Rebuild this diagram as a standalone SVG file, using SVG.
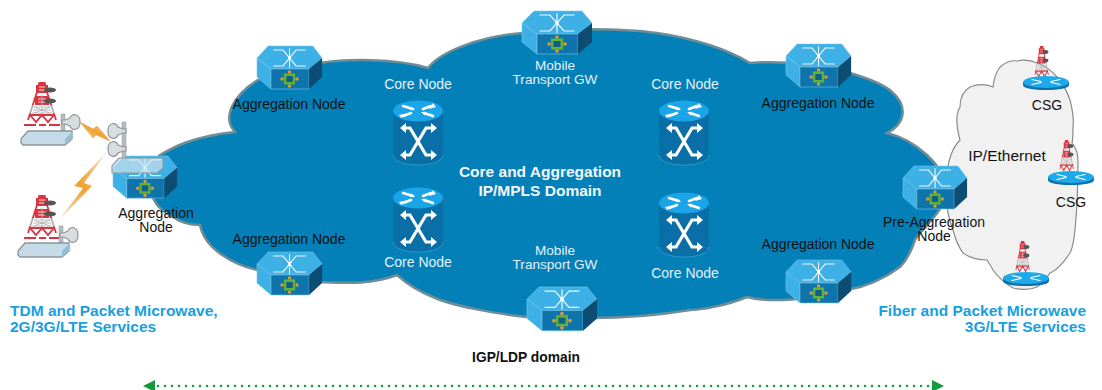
<svg xmlns="http://www.w3.org/2000/svg" width="1102" height="390" viewBox="0 0 1102 390">
<style>
text{font-family:"Liberation Sans",Arial,sans-serif;font-size:14px;text-anchor:middle;fill:#111}
.w{fill:#e4f1f8}
.g{fill:#e4f1f8;font-size:13.600px}
.bs{font-weight:bold;font-size:15.500px;fill:#189fe0;text-anchor:start}
.be{font-weight:bold;font-size:15.500px;fill:#189fe0;text-anchor:end}
.t{font-weight:bold;font-size:15.500px;fill:#f2f8fb}
.k{font-weight:bold;font-size:13.800px;fill:#111}
.ln{stroke:#fff;fill:none;stroke-linecap:round}
</style>
<defs>
<linearGradient id="bolt" x1="0" y1="1" x2="1" y2="0"><stop offset="0" stop-color="#fbe6c8"/><stop offset=".5" stop-color="#f0a030"/><stop offset="1" stop-color="#fbe0b8"/></linearGradient>
<linearGradient id="lat" x1="0" y1="0" x2="0" y2="1"><stop offset="0" stop-color="#d9343f"/><stop offset=".45" stop-color="#d9343f"/><stop offset=".5" stop-color="#b0b0b0"/><stop offset=".75" stop-color="#b0b0b0"/><stop offset=".78" stop-color="#d9343f"/><stop offset="1" stop-color="#d9343f"/></linearGradient>
<g id="sw">
<path d="M0 12 12 0H60L70 12 56 23H15Z" fill="#3db0e6" stroke="#7cc8ea" stroke-width=".6"/>
<path d="M0 12 15 23V43L0 31Z" fill="#3db0e6" stroke="#7cc8ea" stroke-width=".6"/>
<path d="M15 23H56V43H15Z" fill="#0f74ab" stroke="#7cc8ea" stroke-width=".6"/>
<path d="M56 23 70 12V31L56 43Z" fill="#0d4d73"/>
<path class="ln" d="M35 2.500V21.500M18 4H28L42 20H52M52 4H42L28 20H18" stroke-width="1.200" stroke-opacity=".92"/>
<circle cx="35" cy="12" r="1.800" fill="#fff"/>
<circle cx="35" cy="26" r="1.800" fill="#e49a2c"/><circle cx="35" cy="40" r="1.800" fill="#e49a2c"/><circle cx="27" cy="33" r="1.800" fill="#e49a2c"/><circle cx="43" cy="33" r="1.800" fill="#e49a2c"/>
<rect x="29" y="27.500" width="12" height="11" fill="#5fb336"/><rect x="31.500" y="30" width="7" height="6" fill="#0f5f8a"/>
</g>
<g id="core">
<path d="M0 11V55C0 61 11 65 25 65S50 61 50 55V11Z" fill="#0a6fa6"/>
<path d="M0 55C0 61 11 65 25 65S50 61 50 55" fill="none" stroke="#3a9fd0" stroke-width=".8"/>
<ellipse cx="25" cy="11" rx="25" ry="10.500" fill="#1aa5e8"/>
<path class="ln" stroke-width="2.600" d="M10 6 20 9M30 9 38 6M10 16 18 13M31 13 40 16"/>
<path d="M40 3 43 7 36 9ZM8 18 6 15 13 13.500ZM22 10 17 10 18 6.500ZM28 12 33 12 32 15.500Z" fill="#fff"/>
<path class="ln" stroke-width="3.200" d="M10 28H17L33 55H40M40 28H33L17 55H10"/>
<path d="M7 28 13 23V33ZM44 28 38 23V33ZM7 55 13 50V60ZM44 55 38 50V60Z" fill="#fff"/>
</g>
<g id="tw">
<path d="M13 10 4 38M23 10 32 38" stroke="url(#lat)" stroke-width="1.800" fill="none"/>
<path d="M12 3H24V11H12ZM11 14H25V23H11Z" fill="#d9343f"/>
<path d="M15 5H21M15 8H21M14 17H22M14 20H22" stroke="#f4d8da" stroke-width="1"/>
<path d="M10 25H26M9 28H27M8 31H28M10 25 26 31M26 25 10 31M18 12V36" stroke="#b4b4b4" stroke-width=".9" fill="none"/>
<path d="M6 33 12 40 18 33 24 40 30 33" stroke="#d9343f" stroke-width="1.800" fill="none"/>
<path d="M0 43H12M15 43H22M25 43H36M6 33H30" stroke="#d9343f" stroke-width="1.800" fill="none"/>
<rect x="14" y="0" width="8" height="3.500" rx="1.500" fill="#d9343f"/>
<ellipse cx="26" cy="8" rx="6" ry="2.600" fill="#555"/><ellipse cx="26" cy="19" rx="6" ry="2.600" fill="#555"/>
</g>
<g id="disc">
<path d="M0 6V9C0 12.500 10 14 23 14S46 12.500 46 9V6Z" fill="#0f6fa8"/>
<ellipse cx="23" cy="6" rx="23" ry="6" fill="#1eaaea"/>
<path class="ln" d="M9 3.500 18 5.500M37 3.500 28 5.500M9 8.500 18 6.500M37 8.500 28 6.500" stroke-width="1.200"/>
</g>
<g id="box">
<path d="M1 9 8 1H52V9L45 15H3L1 13Z" fill="#c5dbe7" stroke="#8d9499" stroke-width="1.300"/>
<path d="M45 9 52 2V9L45 15Z" fill="#8fc0d8"/>
</g>
<g id="dish"><path d="M0 4H3L8 2C10 -3 18 -3 18 6S10 15 8 10L3 8H0Z" fill="#d8dde0" stroke="#8f979c" stroke-width="1.200"/></g>
</defs>
<rect width="1102" height="390" fill="#fff"/>

<g id="cloud-ip">
<path d="M946 190C946 170 950 150 960 140 955 122 957 112 960 107 960 96 965 90 970 87 978 84 986 84 993 87 994 77 997 71 1000 67 1005 62 1012 60 1017 61 1030 58 1046 64 1057 77 1064 85 1068 94 1070 100 1073 112 1074 120 1073 127 1073 135 1073 139 1072 143 1076 148 1078 154 1078 160 1078 185 1077 210 1075 230 1074 240 1073 247 1070 253 1064 262 1058 270 1050 273 1045 280 1041 285 1037 287 1030 290 1020 290 1013 288 1005 283 997 276 993 270 991 266 989 263 987 260 978 260 970 258 963 253 958 246 955 238 953 230 948 218 946 205 946 190Z" fill="#f1f1f1" stroke="#8a8a8a" stroke-width="1.200"/>
</g>
<g id="cloud-main">
<path d="M235 132C222 118 232 96 258 80 275 70 300 64 320 63 345 59 395 58 428 68 440 52 480 36 523 33 550 28 620 28 657 33 690 38 725 48 750 63 785 60 830 66 850 73 870 79 885 85 892 92 906 104 908 122 887 133 915 140 945 165 946 190 946 210 925 225 915 240 910 255 905 262 900 267 885 278 865 287 847 290 810 300 770 303 747 297 725 306 700 310 690 310 660 315 620 318 590 318 565 320 545 319 527 317 495 314 450 305 433 297 415 290 405 282 397 275 370 285 345 283 320 282 295 280 275 275 257 270 235 265 205 250 200 225 190 225 180 222 173 217 160 210 155 205 150 190 146 175 150 165 160 155 172 148 190 137 235 132Z" fill="#0380b8" stroke="#6f8d96" stroke-width="2.500" stroke-linejoin="miter"/>
</g>

<g id="connectors">
<line x1="158" y1="386" x2="930" y2="386" stroke="#139a3c" stroke-width="2.400" stroke-linecap="round" stroke-dasharray="0.100 6.900"/>
<path d="M143 386 155 380V392ZM944 386 932 380V392Z" fill="#139a3c"/>
<path d="M80 122 93 129 97 126 110 141 96 135 93 138Z" fill="url(#bolt)" stroke="#e0a050" stroke-width=".5"/>
<path d="M106 153 74 186 83 188 59 220 92 186 84 183Z" fill="url(#bolt)"/>
</g>

<g id="tower-site-1">
<use href="#tw" transform="translate(24,82)"/>
<rect x="61" y="114" width="4" height="20" fill="#b6bdc2" stroke="#8f979c" stroke-width=".5"/>
<use href="#box" transform="translate(20,130)"/>
<use href="#dish" transform="translate(62,116)"/>
</g>
<g id="tower-site-2">
<use href="#tw" transform="translate(24,195)"/>
<rect x="59" y="226" width="4" height="20" fill="#b6bdc2" stroke="#8f979c" stroke-width=".5"/>
<use href="#box" transform="translate(17,242)"/>
<use href="#dish" transform="translate(60,229)"/>
</g>

<g id="agg-left">
<use href="#sw" transform="translate(113,156) scale(.915 .98)"/>
<rect x="122" y="122" width="4" height="37" fill="#b6bdc2" stroke="#8f979c" stroke-width=".5"/>
<use href="#dish" transform="matrix(-1 0 0 1 126 125)"/>
<use href="#dish" transform="matrix(-1 0 0 1 126 143)"/>
<path d="M119 158 112 166V173H157L163 168V158Z" fill="#cfe3ec" fill-opacity=".7" stroke="#8a9aa2" stroke-width="1.200"/>
<text x="156" y="218">Aggregation</text><text x="156" y="232">Node</text>
</g>
<g id="agg-tl"><use href="#sw" transform="translate(257,46) scale(.93 1)"/><text x="289" y="109">Aggregation Node</text></g>
<g id="agg-tr"><use href="#sw" transform="translate(786,44) scale(.93 1)"/><text x="818" y="108">Aggregation Node</text></g>
<g id="agg-bl"><use href="#sw" transform="translate(257,252) scale(.93 1)"/><text x="289" y="244">Aggregation Node</text></g>
<g id="agg-br"><use href="#sw" transform="translate(786,260) scale(.93 1)"/><text x="818" y="249">Aggregation Node</text></g>
<g id="gw-top"><use href="#sw" transform="translate(522,11)"/><text class="g" x="555" y="70">Mobile</text><text class="g" x="555" y="84">Transport GW</text></g>
<g id="gw-bottom"><use href="#sw" transform="translate(527,287) scale(1 1.020)"/><text class="g" x="555" y="255">Mobile</text><text class="g" x="555" y="269">Transport GW</text></g>
<g id="core-tl"><use href="#core" transform="translate(393,100)"/><text class="w" x="418" y="89">Core Node</text></g>
<g id="core-bl"><use href="#core" transform="translate(393,187)"/><text class="w" x="418" y="267">Core Node</text></g>
<g id="core-tr"><use href="#core" transform="translate(659,100)"/><text class="w" x="685" y="89">Core Node</text></g>
<g id="core-br"><use href="#core" transform="translate(659,192)"/><text class="w" x="685" y="278">Core Node</text></g>
<g id="pre-agg"><use href="#sw" transform="translate(903,166) scale(.915 1)"/><text x="934" y="227">Pre-Aggregation</text><text x="934" y="241">Node</text></g>

<g id="csg-1"><use href="#tw" transform="translate(1033,46) scale(.48 .76)"/><use href="#disc" transform="translate(1023,76)"/><text x="1047" y="110">CSG</text></g>
<g id="csg-2"><use href="#tw" transform="translate(1058,140) scale(.48 .76)"/><use href="#disc" transform="translate(1048,171)"/><text x="1071" y="207">CSG</text></g>
<g id="csg-3"><use href="#tw" transform="translate(1014,241) scale(.48 .76)"/><use href="#disc" transform="translate(1003,272)"/></g>

<text x="1007" y="161" style="font-size:15.500px">IP/Ethernet</text>
<g id="labels">
<text class="t" x="540" y="177">Core and Aggregation</text>
<text class="t" x="540" y="196">IP/MPLS Domain</text>
<text class="bs" x="10" y="316">TDM and Packet Microwave,</text>
<text class="bs" x="10" y="332">2G/3G/LTE Services</text>
<text class="be" x="1086" y="316">Fiber and Packet Microwave</text>
<text class="be" x="1086" y="332">3G/LTE Services</text>
<text class="k" x="526" y="362">IGP/LDP domain</text>
</g>
</svg>
